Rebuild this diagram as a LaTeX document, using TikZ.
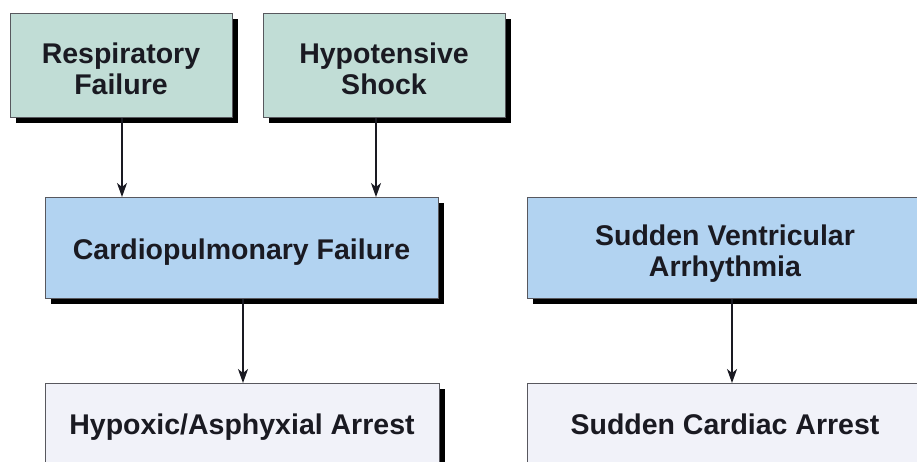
\documentclass[tikz,border=0pt]{standalone}
\usepackage{fontspec}
\setmainfont{Liberation Sans}
\usetikzlibrary{arrows.meta,shadows}

\definecolor{causefill}{RGB}{193,221,214}
\definecolor{failfill}{RGB}{178,211,241}
\definecolor{arrestfill}{RGB}{241,242,249}
\definecolor{edgegray}{RGB}{88,88,94}
\definecolor{inkdark}{RGB}{26,26,34}

% two centred lines, baseline on the first one
\newcommand\twolines[2]{\vtop{\halign{\hfil##\hfil\cr#1\cr#2\cr}}}

\tikzset{
  box/.style={draw=edgegray, line width=0.9pt, inner xsep=0pt, inner ysep=0pt,
    minimum height=0pt, anchor=north, text=inkdark,
    font=\fontsize{28.5}{31.5}\selectfont\bfseries,
    drop shadow={shadow xshift=6pt, shadow yshift=-6pt, opacity=1, fill=black, draw=none}},
  cause/.style={box, fill=causefill},
  failure/.style={box, fill=failfill},
  arrest/.style={box, fill=arrestfill},
  link/.style={draw=inkdark, line width=1.4pt, -{Stealth[length=14pt,width=10pt,inset=4pt]}},
}

\begin{document}
\begin{tikzpicture}[x=1pt, y=-1pt]
  \path[use as bounding box] (0,0) rectangle (917,461);
  \clip (0,0) rectangle (917,461);
  \fill[white] (0,0) rectangle (917,461);

  % causes
  \node[cause, minimum width=222pt, text height=50pt, text depth=54pt] (resp) at (121,13)
    {\twolines{Respiratory}{Failure}};
  \node[cause, minimum width=242pt, text height=50pt, text depth=54pt] (shock) at (384,13)
    {\twolines{Hypotensive}{Shock}};

  % failures
  \node[failure, minimum width=393pt, text height=62pt, text depth=39pt] (cardio) at (241.5,197)
    {Cardiopulmonary Failure};
  \node[failure, minimum width=396pt, text height=48pt, text depth=53pt] (ventr) at (725,197)
    {\twolines{Sudden Ventricular}{Arrhythmia}};

  % arrests
  \node[arrest, minimum width=394pt, text height=51pt, text depth=35pt] (hypox) at (242,383)
    {Hypoxic/Asphyxial Arrest};
  \node[arrest, minimum width=396pt, text height=51pt, text depth=35pt] (sudden) at (725,383)
    {Sudden Cardiac Arrest};

  % connector columns
  \coordinate (c1) at (122,0);
  \coordinate (c2) at (376,0);
  \coordinate (c3) at (243,0);
  \coordinate (c4) at (732,0);

  \draw[link] (resp.south -| c1) -- (cardio.north -| c1);
  \draw[link] (shock.south -| c2) -- (cardio.north -| c2);
  \draw[link] (cardio.south -| c3) -- (hypox.north -| c3);
  \draw[link] (ventr.south -| c4) -- (sudden.north -| c4);
\end{tikzpicture}
\end{document}
